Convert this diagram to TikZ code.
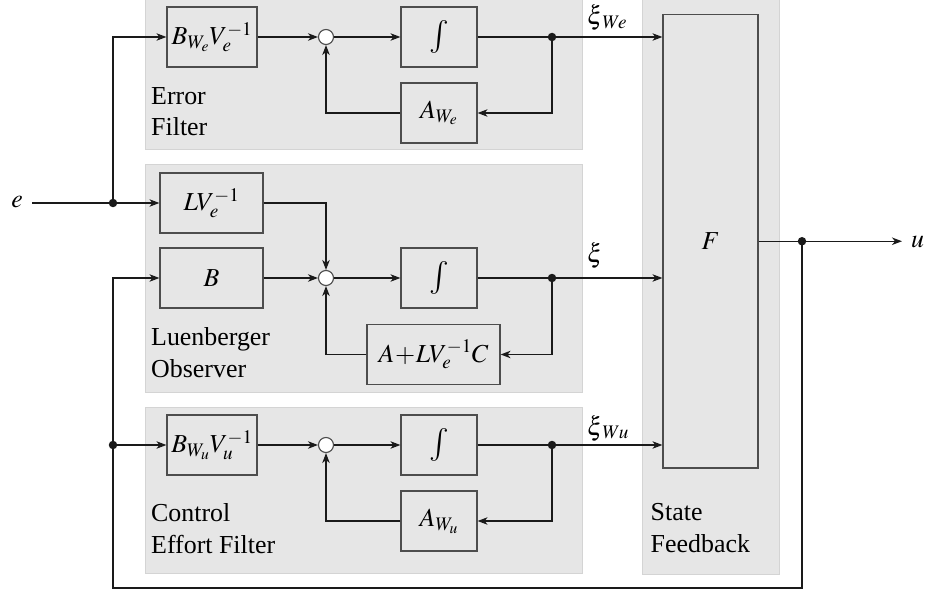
\documentclass[tikz,border=0pt]{standalone}
\usepackage{mathptmx}
\usepackage{fontspec}
\setmainfont{Liberation Serif}
\usetikzlibrary{arrows.meta}
\definecolor{bggray}{HTML}{E6E6E6}
\definecolor{bgline}{HTML}{D4D4D4}
\definecolor{boxline}{HTML}{4D4D4D}
\definecolor{wire}{HTML}{1A1A1A}
\newcommand{\myint}{{\fontsize{33}{36}\selectfont$\int$}}
\begin{document}
\begin{tikzpicture}[x=1bp,y=-1bp,
  font=\fontsize{26}{32}\selectfont,
  bg/.style={fill=bggray,draw=bgline,line width=1bp},
  blk/.style={draw=boxline,line width=1.2bp,inner sep=0pt,minimum height=60bp},
  sumc/.style={circle,draw=boxline,fill=white,line width=1.1bp,minimum size=15bp,inner sep=0pt},
  dot/.style={circle,fill=wire,minimum size=8.5bp,inner sep=0pt},
  wr/.style={draw=wire,line width=1.2bp},
  arr/.style={wr,-{Stealth[length=10bp,width=7.5bp,inset=3bp]}},
  lbl/.style={align=left,anchor=base west,inner sep=0pt}]
\useasboundingbox (0,0) rectangle (927,596);
% background groups
\path[bg] (145,0) rectangle (582,150);
\path[bg] (145,165) rectangle (582,392);
\path[bg] (145,407) rectangle (582,573);
\path[bg] (642,0) rectangle (779,574);
% state feedback
\node[blk,minimum width=95bp,minimum height=453.5bp] (F) at (710.5,241.25) {$F$};
% error filter
\node[blk,minimum width=90bp] (bwe) at (212,37) {$B_{W_e}V_e^{-1}$};
\node[sumc] (s1) at (326,37) {};
\node[blk,minimum width=76bp] (i1) at (439,37) {\myint};
\node[blk,minimum width=76bp] (awe) at (439,113) {$A_{W_e}$};
\node[dot] (d1) at (552,37) {};
% luenberger
\node[blk,minimum width=103bp] (lve) at (211.5,203) {$LV_e^{-1}$};
\node[blk,minimum width=103bp] (b) at (211.5,278) {$B$};
\node[sumc] (s2) at (326,278) {};
\node[blk,minimum width=76bp] (i2) at (439,278) {\myint};
\node[blk,minimum width=133bp] (alc) at (433.5,354.5) {$A\!+\!LV_e^{-1}C$};
\node[dot] (d2) at (552,278) {};
% control effort
\node[blk,minimum width=90bp] (bwu) at (212,445) {$B_{W_u}V_u^{-1}$};
\node[sumc] (s3) at (326,445) {};
\node[blk,minimum width=76bp] (i3) at (439,445) {\myint};
\node[blk,minimum width=76bp] (awu) at (439,521) {$A_{W_u}$};
\node[dot] (d3) at (552,445) {};
% input/output
\node[inner sep=0pt,anchor=base] (e) at (17,208) {$e$};
\coordinate (ein) at (32,203);
\node[dot] (de) at (113,203) {};
\node[dot] (db) at (113,445) {};
\node[dot] (du) at (802,241.25) {};
\coordinate (uout) at (902,241.25);
\node[inner sep=0pt,anchor=base west] (u) at (911,248) {$u$};
% labels (base = last line)
\node[lbl] (l1) at (151,136) {Error\\Filter};
\node[lbl] (l2) at (151,377) {Luenberger\\Observer};
\node[lbl] (l3) at (151,553) {Control\\Effort Filter};
\node[lbl] (l4) at (650.5,552.5) {State\\Feedback};
\node[lbl] (x1) at (587,25) {$\xi_{\mkern2.5mu We}$};
\node[lbl] (x2) at (587,263) {$\xi$};
\node[lbl] (x3) at (587,435) {$\xi_{\mkern2.5mu Wu}$};
% error filter wiring
\draw[arr] (bwe.east) -- (s1.west);
\draw[arr] (s1.east) -- (i1.west);
\draw[arr] (i1.east) -- (F.west |- i1.east);
\draw[arr] (d1.center) |- (awe.east);
\draw[arr] (awe.west) -| (s1.south);
% luenberger wiring
\draw[arr] (lve.east) -| (s2.north);
\draw[arr] (b.east) -- (s2.west);
\draw[arr] (s2.east) -- (i2.west);
\draw[arr] (i2.east) -- (F.west |- i2.east);
\draw[arr] (d2.center) |- (alc.east);
\draw[arr] (alc.west) -| (s2.south);
% control effort wiring
\draw[arr] (bwu.east) -- (s3.west);
\draw[arr] (s3.east) -- (i3.west);
\draw[arr] (i3.east) -- (F.west |- i3.east);
\draw[arr] (d3.center) |- (awu.east);
\draw[arr] (awu.west) -| (s3.south);
% input wiring
\draw[wr] (ein) -- (de.center);
\draw[arr] (de.center) -- (lve.west);
\draw[arr] (de.center) |- (bwe.west);
% output and feedback
\draw[arr] (F.east |- du) -- (uout);
\draw[arr] (du.center) -- (802,588) -| (113,278) -- (b.west);
\draw[arr] (db.center) -- (bwu.west);
\end{tikzpicture}
\end{document}
